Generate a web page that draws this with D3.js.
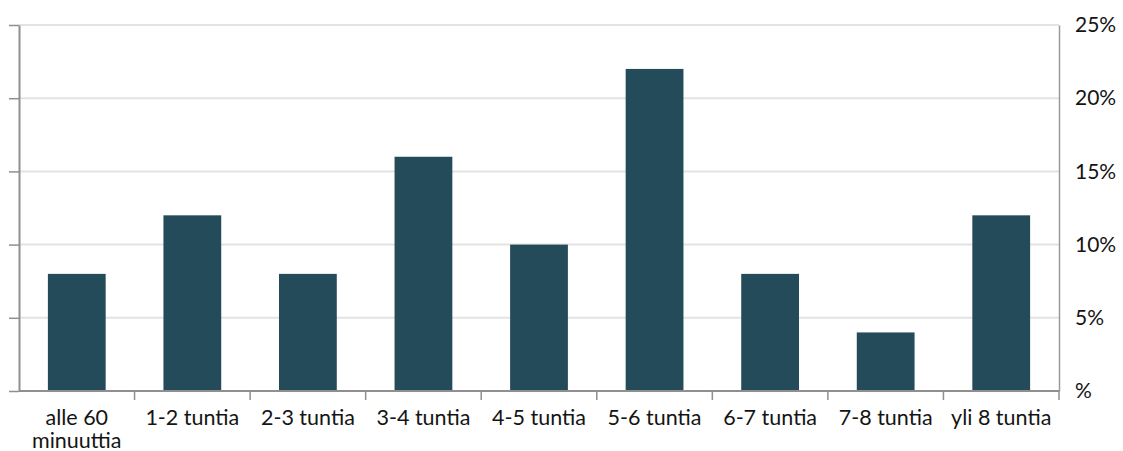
<!DOCTYPE html>
<html>
<head>
<meta charset="utf-8">
<script src="https://cdn.jsdelivr.net/npm/d3@7"></script>
<style>
  html, body { margin: 0; padding: 0; background: #ffffff; }
  svg { display: block; }
  text { font-family: Lato, "Open Sans", sans-serif; fill: #141414; }
</style>
</head>
<body>
<svg id="chart" width="1123" height="451"></svg>
<script>
// Unilähteen kesto: osuus vastaajista (%)
const categories = ["alle 60 minuuttia", "1-2 tuntia", "2-3 tuntia", "3-4 tuntia", "4-5 tuntia",
                    "5-6 tuntia", "6-7 tuntia", "7-8 tuntia", "yli 8 tuntia"];
const shares = [8, 12, 8, 16, 10, 22, 8, 4, 12];
const tickValues = [0, 5, 10, 15, 20, 25];
const tickLabels = ["%", "5%", "10%", "15%", "20%", "25%"];

const svg = d3.select("#chart");
const margin = { left: 19, right: 64, top: 25, bottom: 60 };
const W = 1123, H = 451;
const x0 = margin.left, x1 = W - margin.right;
const y0 = H - margin.bottom, y1 = margin.top;

const x = d3.scaleBand().domain(categories).range([x0, x1]).paddingInner(0.5).paddingOuter(0.25);
const y = d3.scaleLinear().domain([0, 25]).range([y0, y1]);

// Vaakasuorat apuviivat
svg.append("g").selectAll("line").data(tickValues.filter(v => v > 0)).join("line")
  .attr("x1", x0).attr("x2", x1)
  .attr("y1", d => y(d)).attr("y2", d => y(d))
  .attr("stroke", "#e3e3e3").attr("stroke-width", 2);

// Pylväät
svg.append("g").selectAll("rect").data(shares).join("rect")
  .attr("x", (d, i) => x(categories[i]))
  .attr("width", x.bandwidth())
  .attr("y", d => y(d))
  .attr("height", d => y(0) - y(d))
  .attr("fill", "#234b59");

// Arvotunnisteet (valkoinen teksti)
svg.append("g").selectAll("text").data(shares).join("text")
  .attr("x", (d, i) => x(categories[i]) + x.bandwidth() / 2)
  .attr("y", d => y(d) - 17)
  .attr("text-anchor", "middle")
  .style("fill", "#ffffff")
  .style("font-size", "15px")
  .text(d => d + "%");

// Vasen akseli: pelkät tikit
const leftAxis = svg.append("g").attr("transform", `translate(${x0},0)`)
  .call(d3.axisLeft(y).tickValues(tickValues).tickFormat("").tickSize(10).tickSizeOuter(0));
leftAxis.select(".domain").attr("stroke", "#8f8f8f").attr("stroke-width", 2);
leftAxis.selectAll(".tick line").attr("stroke", "#8f8f8f").attr("stroke-width", 1.5);

// Oikea akseli: prosenttiluvut
const rightAxis = svg.append("g").attr("transform", `translate(${x1},0)`)
  .call(d3.axisRight(y).tickValues(tickValues).tickSize(0).tickPadding(16)
    .tickFormat((d, i) => tickLabels[i]));
rightAxis.select(".domain").attr("stroke", "#9a9a9a").attr("stroke-width", 1.5);
rightAxis.selectAll("text").style("font-size", "21px").style("fill", "#141414")
  .attr("font-family", null);

// Vaaka-akseli: tikit luokkien rajoilla
const bounds = categories.map((c, i) => x0 + i * (x1 - x0) / categories.length).slice(1).concat([x1]);
svg.append("line").attr("x1", x0).attr("x2", x1).attr("y1", y0).attr("y2", y0)
  .attr("stroke", "#8f8f8f").attr("stroke-width", 2);
svg.append("g").selectAll("line").data(bounds).join("line")
  .attr("x1", d => d).attr("x2", d => d)
  .attr("y1", y0).attr("y2", y0 + 9)
  .attr("stroke", "#8f8f8f").attr("stroke-width", 1.5);

// Luokkien nimet, pitkät nimet kahdelle riville
const labels = svg.append("g").selectAll("text").data(categories).join("text")
  .attr("x", d => x(d) + x.bandwidth() / 2)
  .attr("y", y0 + 34)
  .attr("text-anchor", "middle")
  .style("font-size", "21.5px");
labels.each(function (d) {
  const t = d3.select(this);
  const parts = d === "alle 60 minuuttia" ? ["alle 60", "minuuttia"] : [d];
  parts.forEach((p, k) => {
    t.append("tspan").attr("x", t.attr("x")).attr("dy", k === 0 ? 0 : 23).text(p);
  });
});
</script>
</body>
</html>
